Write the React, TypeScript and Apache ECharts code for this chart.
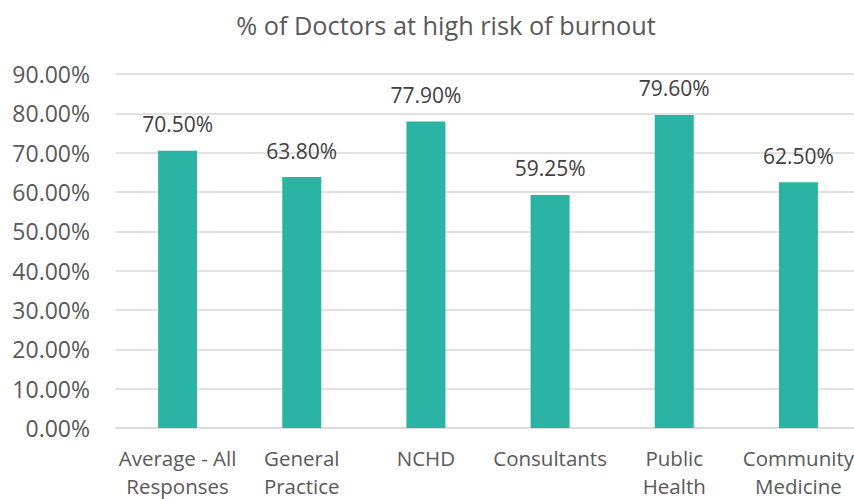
import React, { useEffect, useRef } from "react";
import * as echarts from "echarts";

const categories = ["Average - All\nResponses", "General\nPractice", "NCHD", "Consultants", "Public\nHealth", "Community\nMedicine"];
const values = [70.5, 63.8, 77.9, 59.25, 79.6, 62.5];
const yTicks = [0, 10, 20, 30, 40, 50, 60, 70, 80, 90];

export default function App() {
  const ref = useRef<HTMLDivElement>(null);
  useEffect(() => {
    if (!ref.current) return;
    const chart = echarts.init(ref.current, undefined, { renderer: "svg" });
    const font = "'Open Sans', 'Liberation Sans', sans-serif";
    chart.setOption({
      animation: false,
      title: {
        text: "% of Doctors at high risk of burnout",
        left: 441,
        textAlign: "center",
        top: 7,
        textStyle: { color: "#595959", fontSize: 25.3, fontWeight: "normal", fontFamily: font },
      },
      grid: { left: 115.5, width: 745, top: 74, height: 354, outerBoundsMode: "none" },
      xAxis: {
        type: "category",
        data: categories,
        axisLine: { lineStyle: { color: "#d9d9d9", width: 1.5 } },
        axisTick: { show: false },
        axisLabel: { color: "#595959", fontSize: 20.5, fontFamily: font, lineHeight: 28, margin: 16, interval: 0 },
      },
      yAxis: {
        type: "value",
        min: 0,
        max: 90,
        interval: 10,
        axisLine: { show: false },
        axisTick: { show: false },
        splitLine: { lineStyle: { color: "#d9d9d9", width: 1.5 } },
        axisLabel: {
          color: "#595959",
          fontSize: 23,
          fontFamily: font,
          margin: 25.5,
          formatter: (v: number) => (yTicks.includes(v) ? v.toFixed(2) + "%" : ""),
        },
      },
      series: [
        {
          type: "bar",
          data: values,
          barWidth: 39,
          itemStyle: { color: "#2BB3A3" },
          label: {
            show: true,
            position: "top",
            distance: 16,
            color: "#404040",
            fontSize: 21,
            fontFamily: font,
            formatter: (p: any) => p.value.toFixed(2) + "%",
          },
        },
      ],
    });
    return () => chart.dispose();
  }, []);
  return <div ref={ref} style={{ width: 854, height: 499, position: "absolute", left: 0, top: 0, background: "#fff" }} />;
}
